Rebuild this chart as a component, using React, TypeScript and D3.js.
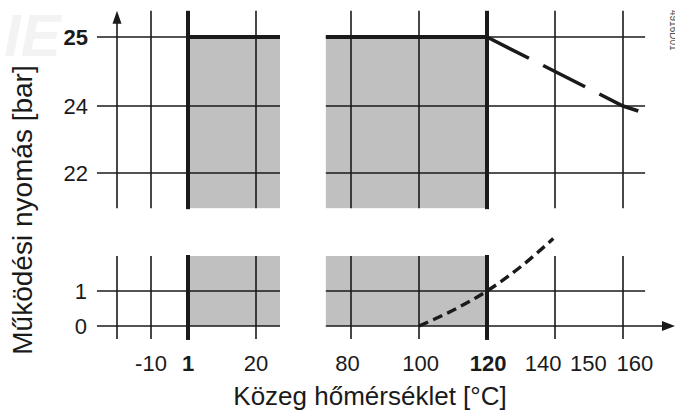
import React from "react";
import * as d3 from "d3";

// ---- data ----
const xLeftTicks = [-10, 1, 20];
const xRightTicks = [80, 100, 120, 140, 160];
const xLeftLabels = [
  { text: "-10", at: -10, bold: false },
  { text: "1", at: 1, bold: true },
  { text: "20", at: 20, bold: false },
];
const xRightLabels = [
  { text: "80", at: 79, bold: false },
  { text: "100", at: 100.5, bold: false },
  { text: "120", at: 120.3, bold: true },
  { text: "140", at: 136.5, bold: false },
  { text: "150", at: 149.8, bold: false },
  { text: "160", at: 163.5, bold: false },
];
const yTopTicks = [22, 24, 25];
const yTopLabels = [
  { text: "22", at: 22, bold: false },
  { text: "24", at: 24, bold: false },
  { text: "25", at: 25, bold: true },
];
const yBottomTicks = [0, 1];
const yBottomLabels = [
  { text: "0", at: 0, bold: false },
  { text: "1", at: 1, bold: false },
];
const tempMin = 1;
const tempMax = 120;
const pressureMax = 25;
// derating of maximum pressure above 120 °C
const derateLine: [number, number][] = [
  [120, 25],
  [160, 24],
  [164.5, 23.85],
];
// vapour pressure (gauge) curve
const vapourCurve: [number, number][] = [
  [100, 0],
  [110, 0.45],
  [120, 1],
  [130, 1.7],
  [139.5, 2.5],
];
const xTitle = "Közeg hőmérséklet [°C]";
const yTitle = "Működési nyomás [bar]";
const docCode = "4916D01";

// ---- layout ----
const W = 675;
const H = 411;
const xL = d3.scaleLinear().domain([-20, -10, 1, 20]).range([117, 151, 188, 256]);
const xR = d3.scaleLinear().domain([80, 160]).range([351, 623]);
const yT = d3.scaleLinear().domain([22, 24, 25]).range([173, 106, 37]);
const yB = d3.scaleLinear().domain([0, 1]).range([326, 291]);

const leftDom = [-25.9, 26.7];
const rightDom = [72.6, 166.5];
const topDom = [20.95, 25.38];
const botDom = [-0.37, 2];

const INK = "#1a1a1a";
const GRAY = "#c0c0c0";
const FONT = "'Liberation Sans', Arial, Helvetica, sans-serif";

export default function App() {
  const yAxisX = xL(-20);
  const gridW = 1.6;
  const thickW = 4;

  const hLines = (ys: number[], ysc: any, x0: number, x1: number, key: string) =>
    ys.map((v) => (
      <line key={key + v} x1={x0} x2={x1} y1={ysc(v)} y2={ysc(v)} stroke={INK} strokeWidth={gridW} />
    ));
  const vLines = (xs: number[], xsc: any, y0: number, y1: number, key: string) =>
    xs.map((v) => (
      <line key={key + v} x1={xsc(v)} x2={xsc(v)} y1={y0} y2={y1} stroke={INK} strokeWidth={gridW} />
    ));

  const derate = d3
    .line()
    .x((d) => xR(d[0]))
    .y((d) => yT(d[1]))(derateLine);
  const vapour = d3
    .line()
    .curve(d3.curveMonotoneX)
    .x((d) => xR(d[0]))
    .y((d) => yB(d[1]))(vapourCurve);

  const topY0 = yT(topDom[1]);
  const topY1 = yT(topDom[0]);
  const botY0 = yB(botDom[1]);
  const botY1 = yB(botDom[0]);

  const axisArrowX = W;
  return (
    <svg
      width={W}
      height={H}
      style={{ position: "absolute", left: 0, top: 0, background: "#fff" }}
      fontFamily={FONT}
    >
      <rect x={0} y={0} width={W} height={H} fill="#fff" />
      {/* faint watermark */}
      <text x={4} y={56} fontSize={60} fontStyle="italic" fill="#f3f3f3" fontWeight="bold">
        IE
      </text>

      {/* grey operating areas */}
      <rect x={xL(tempMin)} y={yT(pressureMax)} width={xL(leftDom[1]) - xL(tempMin)} height={topY1 - yT(pressureMax)} fill={GRAY} />
      <rect x={xR(rightDom[0])} y={yT(pressureMax)} width={xR(tempMax) - xR(rightDom[0])} height={topY1 - yT(pressureMax)} fill={GRAY} />
      <rect x={xL(tempMin)} y={botY0} width={xL(leftDom[1]) - xL(tempMin)} height={yB(0) - botY0} fill={GRAY} />
      <rect x={xR(rightDom[0])} y={botY0} width={xR(tempMax) - xR(rightDom[0])} height={yB(0) - botY0} fill={GRAY} />

      {/* horizontal grid lines */}
      {hLines(yTopTicks, yT, xL(leftDom[0]), xL(leftDom[1]), "htl")}
      {hLines(yTopTicks, yT, xR(rightDom[0]), xR(rightDom[1]), "htr")}
      {hLines(yBottomTicks, yB, xL(leftDom[0]), xL(leftDom[1]), "hbl")}
      {hLines([1], yB, xR(rightDom[0]), xR(rightDom[1]), "hbr")}
      {/* x axis with arrow */}
      <line x1={xR(rightDom[0])} x2={axisArrowX - 8} y1={yB(0)} y2={yB(0)} stroke={INK} strokeWidth={gridW} />
      <path
        d={`M${axisArrowX},${yB(0)} L${axisArrowX - 13},${yB(0) - 5} L${axisArrowX - 13},${yB(0) + 5} Z`}
        fill={INK}
      />

      {/* vertical grid lines */}
      {vLines(xLeftTicks.filter((v) => v !== tempMin), xL, topY0, topY1, "vtl")}
      {vLines(xLeftTicks.filter((v) => v !== tempMin), xL, botY0, botY1, "vbl")}
      {vLines(xRightTicks.filter((v) => v !== tempMax), xR, topY0, topY1, "vtr")}
      {vLines(xRightTicks.filter((v) => v !== tempMax), xR, botY0, botY1, "vbr")}
      {/* y axis with arrow */}
      <line x1={yAxisX} x2={yAxisX} y1={topY1} y2={topY0 + 8} stroke={INK} strokeWidth={gridW} />
      <path d={`M${yAxisX},${topY0} L${yAxisX - 4.5},${topY0 + 13} L${yAxisX + 4.5},${topY0 + 13} Z`} fill={INK} />
      <line x1={yAxisX} x2={yAxisX} y1={botY0} y2={botY1} stroke={INK} strokeWidth={gridW} />

      {/* thick limit lines */}
      <line x1={xL(tempMin)} x2={xL(tempMin)} y1={topY0} y2={topY1 + 1} stroke={INK} strokeWidth={thickW} />
      <line x1={xL(tempMin)} x2={xL(tempMin)} y1={botY0 - 1} y2={botY1 + 1} stroke={INK} strokeWidth={thickW} />
      <line x1={xR(tempMax)} x2={xR(tempMax)} y1={topY0} y2={topY1 + 1} stroke={INK} strokeWidth={thickW} />
      <line x1={xR(tempMax)} x2={xR(tempMax)} y1={botY0 - 1} y2={botY1 + 1} stroke={INK} strokeWidth={thickW} />
      <line x1={xL(tempMin)} x2={xL(leftDom[1])} y1={yT(pressureMax)} y2={yT(pressureMax)} stroke={INK} strokeWidth={thickW} />
      <line x1={xR(rightDom[0])} x2={xR(tempMax)} y1={yT(pressureMax)} y2={yT(pressureMax)} stroke={INK} strokeWidth={thickW} />

      {/* derating (long dashes) */}
      <path d={derate || ""} fill="none" stroke={INK} strokeWidth={3.6} strokeDasharray="47 16" />
      {/* vapour pressure curve (short dashes) */}
      <path d={vapour || ""} fill="none" stroke={INK} strokeWidth={3.4} strokeDasharray="10 5.5" />

      {/* y tick labels */}
      {yTopLabels.map((d) => (
        <text key={"ytl" + d.text} x={88} y={yT(d.at)} dy="0.36em" textAnchor="end" fontSize={22} fontWeight={d.bold ? "bold" : "normal"} fill={INK}>
          {d.text}
        </text>
      ))}
      {yBottomLabels.map((d) => (
        <text key={"ybl" + d.text} x={87} y={yB(d.at)} dy="0.36em" textAnchor="end" fontSize={22} fontWeight={d.bold ? "bold" : "normal"} fill={INK}>
          {d.text}
        </text>
      ))}
      {/* x tick labels */}
      {xLeftLabels.map((d) => (
        <text key={"xll" + d.text} x={xL(d.at)} y={371} textAnchor="middle" fontSize={22} fontWeight={d.bold ? "bold" : "normal"} fill={INK}>
          {d.text}
        </text>
      ))}
      {xRightLabels.map((d) => (
        <text key={"xrl" + d.text} x={xR(d.at)} y={371} textAnchor="middle" fontSize={22} fontWeight={d.bold ? "bold" : "normal"} fill={INK}>
          {d.text}
        </text>
      ))}

      {/* axis titles */}
      <text x={370} y={405} textAnchor="middle" fontSize={26} fill={INK}>
        {xTitle}
      </text>
      <text transform="translate(32,210) rotate(-90)" textAnchor="middle" fontSize={28} fill={INK}>
        {yTitle}
      </text>

      {/* document code */}
      <text transform="translate(670,10) rotate(90)" fontSize={10} fill="#555">
        {docCode}
      </text>
    </svg>
  );
}
